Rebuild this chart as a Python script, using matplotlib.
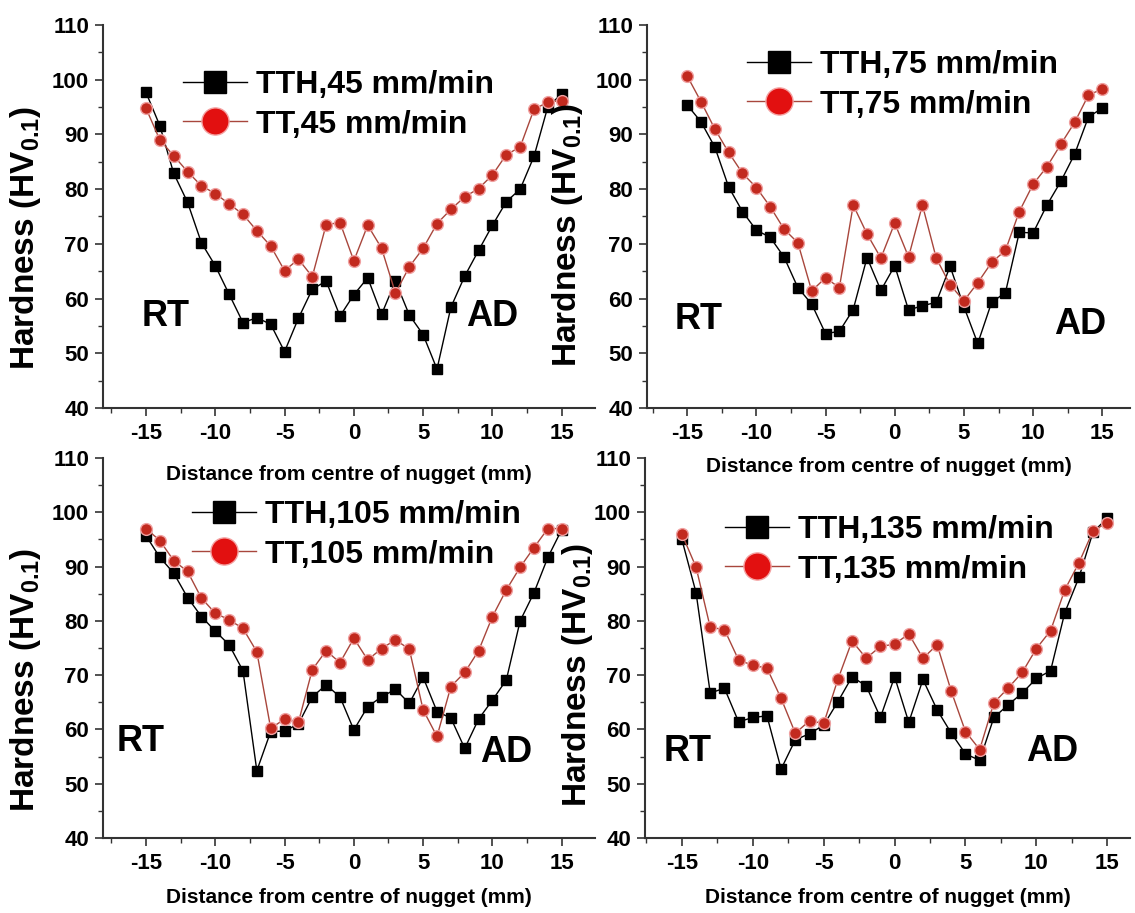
import matplotlib
matplotlib.use("Agg")
import matplotlib.pyplot as plt
from matplotlib.ticker import MultipleLocator

plt.rcParams['font.family'] = ['Liberation Sans', 'DejaVu Sans']
plt.rcParams['font.weight'] = 'bold'
plt.rcParams['axes.unicode_minus'] = False
plt.rcParams['mathtext.fontset'] = 'custom'
plt.rcParams['mathtext.bf'] = 'Liberation Sans:bold'
plt.rcParams['mathtext.rm'] = 'Liberation Sans:bold'
plt.rcParams['mathtext.default'] = 'bf'

# distance from centre of nugget (mm)
distance = list(range(-15, 16))
x_ticks = [-15, -10, -5, 0, 5, 10, 15]
y_ticks = [40, 50, 60, 70, 80, 90, 100, 110]

speeds = ["45", "75", "105", "135"]

tth_45 = [97.7, 91.6, 82.9, 77.6, 70.2, 66.0, 60.8, 55.6, 56.5, 55.3, 50.3, 56.4, 61.7, 63.2, 56.8, 60.7,
          63.8, 57.1, 63.2, 57.0, 53.4, 47.1, 58.4, 64.1, 68.8, 73.4, 77.7, 80.0, 86.0, 95.1, 97.4]
tt_45 = [94.8, 89.0, 86.1, 83.2, 80.6, 79.2, 77.3, 75.4, 72.4, 69.6, 65.1, 67.2, 64.0, 73.5, 73.9, 66.9,
         73.4, 69.2, 61.0, 65.8, 69.2, 73.7, 76.3, 78.6, 80.1, 82.6, 86.3, 87.7, 94.6, 95.9, 96.2]

tth_75 = [95.4, 92.3, 87.7, 80.4, 75.9, 72.5, 71.2, 67.6, 62.0, 59.0, 53.6, 54.0, 58.0, 67.5, 61.5, 66.0,
          57.9, 58.7, 59.3, 65.9, 58.5, 51.8, 59.3, 61.1, 72.1, 72.0, 77.1, 81.4, 86.4, 93.2, 94.8]
tt_75 = [100.7, 96.0, 91.0, 86.7, 82.9, 80.3, 76.8, 72.7, 70.2, 61.4, 63.8, 62.0, 77.1, 71.8, 67.4, 73.8,
         67.6, 77.1, 67.4, 62.5, 59.6, 62.9, 66.6, 68.8, 75.9, 80.9, 84.1, 88.2, 92.2, 97.2, 98.3]

tth_105 = [95.7, 91.7, 88.8, 84.3, 80.8, 78.1, 75.6, 70.8, 52.4, 59.6, 59.7, 61.0, 66.0, 68.2, 66.0, 59.9,
           64.2, 66.0, 67.4, 64.8, 69.6, 63.3, 62.1, 56.5, 61.9, 65.4, 69.1, 80.0, 85.2, 91.7, 96.8]
tt_105 = [97.0, 94.8, 91.1, 89.1, 84.2, 81.4, 80.2, 78.6, 74.3, 60.2, 61.9, 61.3, 71.0, 74.5, 72.3, 76.8,
          72.8, 74.9, 76.5, 74.8, 63.6, 58.7, 67.9, 70.5, 74.5, 80.8, 85.7, 89.9, 93.5, 97.0, 97.0]

tth_135 = [95.0, 85.2, 66.7, 67.6, 61.4, 62.2, 62.5, 52.7, 58.1, 59.2, 60.8, 65.1, 69.7, 68.0, 62.2, 69.7,
           61.3, 69.2, 63.6, 59.3, 55.5, 54.3, 62.2, 64.5, 66.7, 69.4, 70.8, 81.5, 88.0, 96.4, 98.9]
tt_135 = [96.0, 89.9, 78.8, 78.4, 72.8, 71.8, 71.3, 65.7, 59.3, 61.6, 61.1, 69.2, 76.3, 73.1, 75.3, 75.7,
          77.6, 73.1, 75.6, 67.0, 59.6, 56.3, 64.9, 67.6, 70.5, 74.9, 78.2, 85.7, 90.7, 96.6, 98.1]

tth_data = [tth_45, tth_75, tth_105, tth_135]
tt_data = [tt_45, tt_75, tt_105, tt_135]

# axes boxes in pixels: left, right, top, bottom (figure 1135 x 913)
boxes = [(103, 595, 25, 408), (647, 1130, 25, 408), (103, 595, 458, 838), (645, 1130, 458, 838)]
xlims = [(-18.1, 17.4), (-17.9, 17.0), (-18.1, 17.4), (-17.6, 16.6)]
xlabel_y = [-0.149, -0.128, -0.132, -0.132]
ylabel_pos = [(-0.122, 0.444), (-0.128, 0.452), (-0.122, 0.416), (-0.103, 0.428)]
legend_pos = [(183, 70), (747, 50), (192, 500), (725, 515)]
rt_pos = [(-13.6, 56.8), (-14.2, 56.1), (-15.4, 57.7), (-14.6, 55.9)]
ad_pos = [(10.0, 56.8), (13.4, 55.2), (11.0, 55.7), (11.1, 55.9)]

W, H = 1135, 913
fig = plt.figure(figsize=(W / 100, H / 100), dpi=100)

for i in range(4):
    l, r, t, b = boxes[i]
    ax = fig.add_axes([l / W, 1 - b / H, (r - l) / W, (b - t) / H])
    ax.set_facecolor('none')

    ax.plot(distance, tth_data[i], color='black', linewidth=1.0, marker='s', markersize=7,
            markerfacecolor='black', markeredgecolor='black', label='TTH,' + speeds[i] + ' mm/min', zorder=3)
    ax.plot(distance, tt_data[i], color='#a8463c', linewidth=1.0, marker='o', markersize=8.5,
            markerfacecolor='#c22a1f', markeredgecolor='#f0a0a0', markeredgewidth=1.0,
            label='TT,' + speeds[i] + ' mm/min', zorder=4)

    ax.set_xlim(*xlims[i])
    ax.set_ylim(40, 110)
    ax.set_xticks(x_ticks, labels=[str(v) for v in x_ticks], fontsize=16, fontweight='bold')
    ax.set_yticks(y_ticks, labels=[str(v) for v in y_ticks], fontsize=16, fontweight='bold')
    ax.xaxis.set_minor_locator(MultipleLocator(2.5))
    ax.yaxis.set_minor_locator(MultipleLocator(5))
    ax.tick_params(which='major', direction='out', length=6, width=1.2, colors='#333333',
                   labelcolor='black')
    ax.tick_params(axis='x', which='major', pad=5)
    ax.tick_params(axis='y', which='major', pad=4)
    ax.tick_params(which='minor', direction='out', length=3.5, width=1.0, colors='#333333')
    for s in ['top', 'right']:
        ax.spines[s].set_visible(False)
    for s in ['left', 'bottom']:
        ax.spines[s].set_linewidth(1.5)
        ax.spines[s].set_color('#333333')

    ax.set_xlabel('Distance from centre of nugget (mm)', fontsize=15, fontweight='bold')
    ax.xaxis.set_label_coords(0.5, xlabel_y[i])
    ax.set_ylabel('Hardness (HV$_{0.1}$)', fontsize=24, fontweight='bold')
    ax.yaxis.set_label_coords(*ylabel_pos[i])

    ax.text(rt_pos[i][0], rt_pos[i][1], 'RT', fontsize=26, fontweight='bold', ha='center', va='center')
    ax.text(ad_pos[i][0], ad_pos[i][1], 'AD', fontsize=26, fontweight='bold', ha='center', va='center')

    lx, ly = legend_pos[i]
    leg = ax.legend(loc='upper left', bbox_to_anchor=(lx / W, 1 - ly / H), bbox_transform=fig.transFigure,
                    frameon=False, borderpad=0, borderaxespad=0, handlelength=2.0, handletextpad=0.3,
                    labelspacing=0.3, markerscale=2.3, prop={'size': 23, 'weight': 'bold'})
    leg.legend_handles[1].set_markerfacecolor('#e21010')
    leg.legend_handles[1].set_markeredgecolor('#f4a0a0')

fig.savefig('out.png', dpi=100)
